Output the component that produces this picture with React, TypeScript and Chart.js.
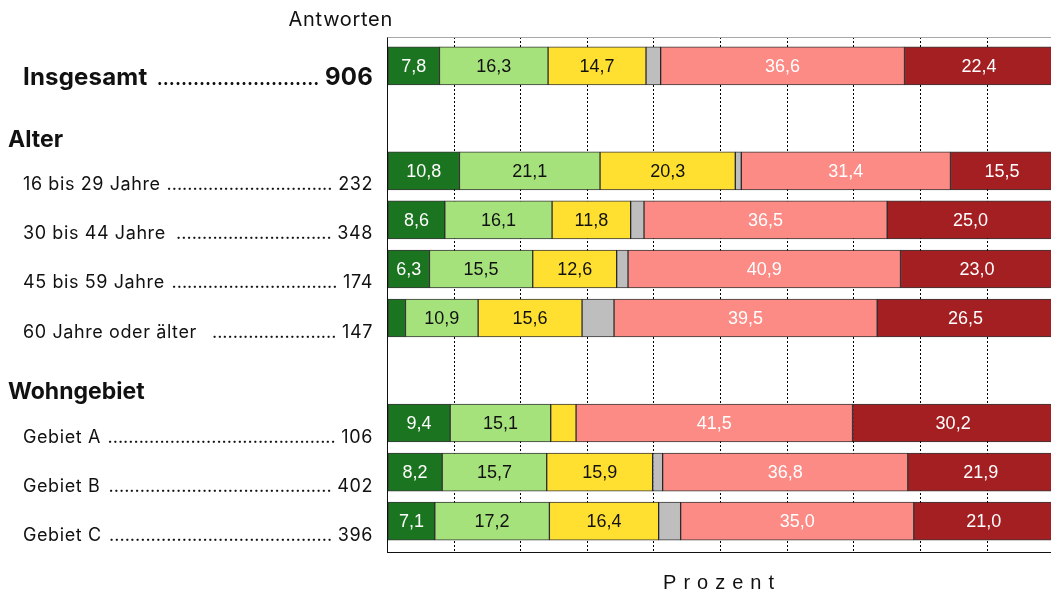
import React, { useEffect, useRef } from "react";
import { Chart, registerables } from "chart.js";

Chart.register(...registerables);

// ---- data ----
const rowLabels = [
  "Insgesamt",
  "16 bis 29 Jahre",
  "30 bis 44 Jahre",
  "45 bis 59 Jahre",
  "60 Jahre oder älter ",
  "Gebiet A",
  "Gebiet B",
  "Gebiet C",
];
const rowCounts = [906, 232, 348, 174, 147, 106, 402, 396];
const groupHeaders = ["Alter", "Wohngebiet"];

const seriesNames = [
  "sehr zufrieden",
  "eher zufrieden",
  "teils/teils",
  "weiß nicht",
  "eher unzufrieden",
  "sehr unzufrieden",
];
const seriesA = [7.8, 10.8, 8.6, 6.3, 2.7, 9.4, 8.2, 7.1];
const seriesB = [16.3, 21.1, 16.1, 15.5, 10.9, 15.1, 15.7, 17.2];
const seriesC = [14.7, 20.3, 11.8, 12.6, 15.6, 3.8, 15.9, 16.4];
const seriesD = [2.2, 0.9, 2.0, 1.7, 4.8, 0.0, 1.5, 3.3];
const seriesE = [36.6, 31.4, 36.5, 40.9, 39.5, 41.5, 36.8, 35.0];
const seriesF = [22.4, 15.5, 25.0, 23.0, 26.5, 30.2, 21.9, 21.0];
const xTickStep = 10;
const xVisibleMax = 99.44; // the 100 % mark lies just past the right edge (clipped)
const axisTitle = "Prozent";
const countTitle = "Antworten";

// ---- layout (row slots on the vertical axis) ----
const rowSlots = [0.59, 2.73, 3.73, 4.73, 5.73, 7.87, 8.87, 9.87];
const headerSlots = [2.25, 7.39];
const slotMax = 10.5;

const seriesValues = [seriesA, seriesB, seriesC, seriesD, seriesE, seriesF];
const seriesColors = ["#1b741f", "#a5e27b", "#ffe030", "#bebebe", "#fc8a85", "#a41f22"];
const labelColors = ["#ffffff", "#111111", "#111111", null, "#ffffff", "#ffffff"];

const LABEL_FONT = "Inter, 'Noto Sans', sans-serif";
const VALUE_FONT = "'Liberation Sans', Arial, sans-serif";

const fmt = (v: number) => v.toFixed(1).replace(".", ",");

const overlayPlugin = {
  id: "overlay",
  afterDatasetsDraw(chart: any) {
    const ctx = chart.ctx as CanvasRenderingContext2D;
    ctx.save();
    ctx.font = `18px ${VALUE_FONT}`;
    ctx.textAlign = "center";
    ctx.textBaseline = "middle";
    chart.data.datasets.forEach((ds: any, d: number) => {
      const color = labelColors[d];
      if (!color) return;
      const meta = chart.getDatasetMeta(d);
      meta.data.forEach((el: any, i: number) => {
        const v = seriesValues[d][i];
        if (v < 5) return;
        ctx.fillStyle = color;
        ctx.fillText(fmt(v), (el.x + el.base) / 2, el.y + 1);
      });
    });
    ctx.restore();
  },
  afterDraw(chart: any) {
    const ctx = chart.ctx as CanvasRenderingContext2D;
    const area = chart.chartArea;
    const yScale = chart.scales.y;
    ctx.save();
    // top frame line
    ctx.strokeStyle = "#a8a8a8";
    ctx.lineWidth = 1;
    ctx.beginPath();
    ctx.moveTo(area.left, area.top + 0.5);
    ctx.lineTo(chart.width, area.top + 0.5);
    ctx.stroke();

    // column title
    ctx.fillStyle = "#111";
    ctx.textBaseline = "alphabetic";
    ctx.textAlign = "right";
    ctx.font = `20px ${LABEL_FONT}`;
    (ctx as any).letterSpacing = "0.7px";
    ctx.fillText(countTitle, 393, 26);

    // group headers
    ctx.textAlign = "left";
    ctx.font = `bold 23px ${LABEL_FONT}`;
    (ctx as any).letterSpacing = "0px";
    groupHeaders.forEach((h, i) => {
      ctx.fillText(h, 8, yScale.getPixelForValue(headerSlots[i]));
    });

    // row labels with dot leaders
    const leftX = 23;
    const rightX = 373;
    rowLabels.forEach((lab, i) => {
      const y = yScale.getPixelForValue(rowSlots[i]) + 19.5;
      const isTotal = i === 0;
      ctx.font = isTotal ? `bold 24px ${LABEL_FONT}` : `18px ${LABEL_FONT}`;
      (ctx as any).letterSpacing = isTotal ? "0.2px" : "0.6px";
      const num = String(rowCounts[i]);
      ctx.textAlign = "left";
      ctx.fillText(lab, leftX, y);
      const space = ctx.measureText(" ").width;
      const labW = ctx.measureText(lab).width;
      const numW = ctx.measureText(num).width;
      ctx.textAlign = "right";
      ctx.fillText(num, rightX, y);
      ctx.font = isTotal ? `bold 18px ${LABEL_FONT}` : `18px ${LABEL_FONT}`;
      (ctx as any).letterSpacing = "0px";
      const dotW = ctx.measureText(".").width;
      const start = leftX + labW + space;
      const end = rightX - numW - space;
      const n = Math.max(0, Math.floor((end - start) / dotW));
      ctx.fillText(".".repeat(n), end, y);
    });

    // axis title with letter spacing
    ctx.font = `20px ${VALUE_FONT}`;
    ctx.textAlign = "center";
    (ctx as any).letterSpacing = "7px";
    ctx.fillText(axisTitle, 722, 589);
    ctx.restore();
  },
};

export default function App() {
  const canvasRef = useRef<HTMLCanvasElement | null>(null);

  useEffect(() => {
    if (!canvasRef.current) return;
    const datasets = seriesValues.map((vals, d) => ({
      label: seriesNames[d],
      data: vals.map((v, i) => ({ x: v, y: rowSlots[i] })),
      backgroundColor: seriesColors[d],
      borderColor: "rgba(0,0,0,0.78)",
      borderWidth: 1,
      borderSkipped: false,
      barThickness: 38,
      clip: false,
    }));
    const chart = new Chart(canvasRef.current, {
      type: "bar",
      data: { datasets },
      options: {
        indexAxis: "y",
        animation: false,
        responsive: false,
        events: [],
        layout: { padding: { left: 387.5, top: 37, right: 1, bottom: 39 } },
        plugins: { legend: { display: false }, tooltip: { enabled: false }, title: { display: false } },
        scales: {
          x: {
            type: "linear",
            stacked: true,
            min: 0,
            max: xVisibleMax,
            ticks: { display: false, stepSize: xTickStep },
            grid: {
              display: true,
              drawTicks: false,
              lineWidth: 1,
              color: (c: any) =>
                c.tick && Math.abs(c.tick.value % xTickStep) < 1e-6 ? "#000" : "rgba(0,0,0,0)",
            },
            border: { display: true, color: "#111", width: 1, dash: [2, 2] },
          },
          y: {
            type: "linear",
            stacked: true,
            reverse: true,
            offset: false,
            min: 0,
            max: slotMax,
            ticks: { display: false },
            grid: { display: false, drawTicks: false, offset: false },
            border: { display: true, color: "#111", width: 1 },
          },
        },
      } as any,
      plugins: [overlayPlugin],
    });
    return () => chart.destroy();
  }, []);

  return (
    <div style={{ position: "absolute", left: 0, top: 0, width: 1051, height: 591, background: "#fff" }}>
      <canvas ref={canvasRef} width={1051} height={591} />
    </div>
  );
}
